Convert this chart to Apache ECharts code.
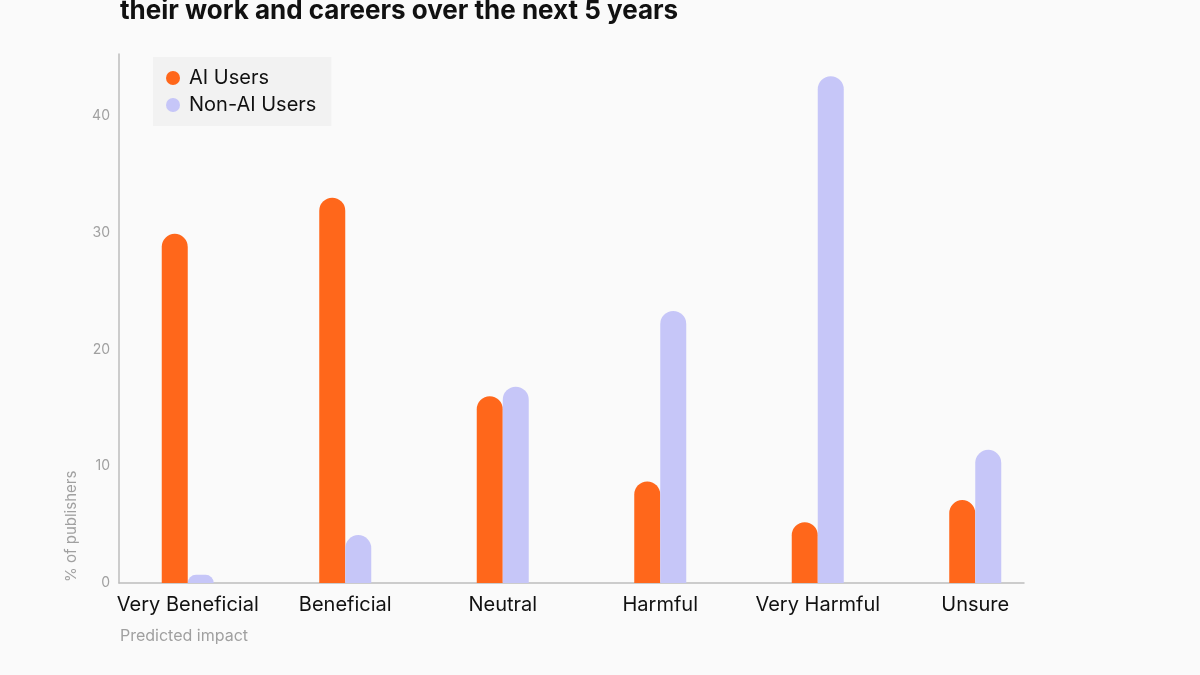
<!DOCTYPE html>
<html>
<head>
<meta charset="utf-8">
<script src="https://cdn.jsdelivr.net/npm/echarts@6/dist/echarts.min.js"></script>
<style>html,body{margin:0;padding:0;background:#fafafa;}#c{width:1200px;height:675px;}</style>
</head>
<body>
<div id="c"></div>
<script>
const categories = ['Very Beneficial', 'Beneficial', 'Neutral', 'Harmful', 'Very Harmful', 'Unsure'];
const aiUsers = [29.9, 33.0, 16.0, 8.7, 5.2, 7.1];
const nonAiUsers = [0.7, 4.1, 16.8, 23.3, 43.4, 11.4];
const yTicks = [0, 10, 20, 30, 40];

const FONT = 'Inter, "Noto Sans", sans-serif';
const chart = echarts.init(document.getElementById('c'));
const yMax = 45.3;
chart.setOption({
  backgroundColor: '#fafafa',
  animation: false,
  textStyle: { fontFamily: FONT },
  title: [
    { text: 'their work and careers over the next 5 years', left: 115, top: -7,
      textStyle: { fontSize: 26, fontWeight: 'bold', color: '#111', fontFamily: FONT } },
    { text: 'Predicted impact', left: 115, top: 623,
      textStyle: { fontSize: 16, fontWeight: 'normal', color: '#a0a0a0', fontFamily: FONT } }
  ],
  legend: {
    left: 153, top: 57, orient: 'vertical',
    backgroundColor: '#f2f2f2', padding: [11, 15, 11, 13], itemGap: 7,
    icon: 'circle', itemWidth: 22, itemHeight: 14,
    textStyle: { fontSize: 20, color: '#111', fontFamily: FONT },
    data: ['AI Users', 'Non-AI Users']
  },
  grid: [
    { left: 109, right: 146, top: 54, bottom: 92 },
    { left: 119, right: 176, top: 54, bottom: 92 }
  ],
  xAxis: [
    { type: 'category', gridIndex: 0, data: categories,
      axisLine: { show: false }, axisTick: { show: false },
      axisLabel: { interval: 0, fontSize: 20, color: '#111', margin: 12, fontFamily: FONT } },
    { type: 'value', gridIndex: 1, min: 0, max: 1,
      axisLine: { show: true, lineStyle: { color: '#bdbdbd', width: 1.5 } },
      axisTick: { show: false }, axisLabel: { show: false }, splitLine: { show: false } }
  ],
  yAxis: [
    { type: 'value', gridIndex: 0, min: 0, max: yMax, interval: 10,
      axisLine: { show: false }, axisTick: { show: false }, axisLabel: { show: false }, splitLine: { show: false } },
    { type: 'value', gridIndex: 1, min: 0, max: yMax, interval: 10,
      axisLine: { show: true, lineStyle: { color: '#bdbdbd', width: 1.5 } },
      axisTick: { show: false }, splitLine: { show: false },
      axisLabel: { fontSize: 14, color: '#a0a0a0', margin: 9, fontFamily: FONT,
        formatter: v => (yTicks.indexOf(v) >= 0 ? String(v) : '') } }
  ],
  graphic: [
    { type: 'text', x: 71, y: 582, rotation: Math.PI / 2,
      style: { text: '% of publishers', fontSize: 15, fill: '#a0a0a0', fontFamily: FONT,
        textAlign: 'left', textVerticalAlign: 'middle' } }
  ],
  series: [
    { name: 'AI Users', type: 'bar', xAxisIndex: 0, yAxisIndex: 0, data: aiUsers,
      barWidth: 26, barGap: '0%',
      itemStyle: { color: '#ff671b', borderRadius: [13, 13, 0, 0] } },
    { name: 'Non-AI Users', type: 'bar', xAxisIndex: 0, yAxisIndex: 0, data: nonAiUsers,
      barWidth: 26, barGap: '0%',
      itemStyle: { color: '#c6c6f8', borderRadius: [13, 13, 0, 0] } }
  ]
});
</script>
</body>
</html>
